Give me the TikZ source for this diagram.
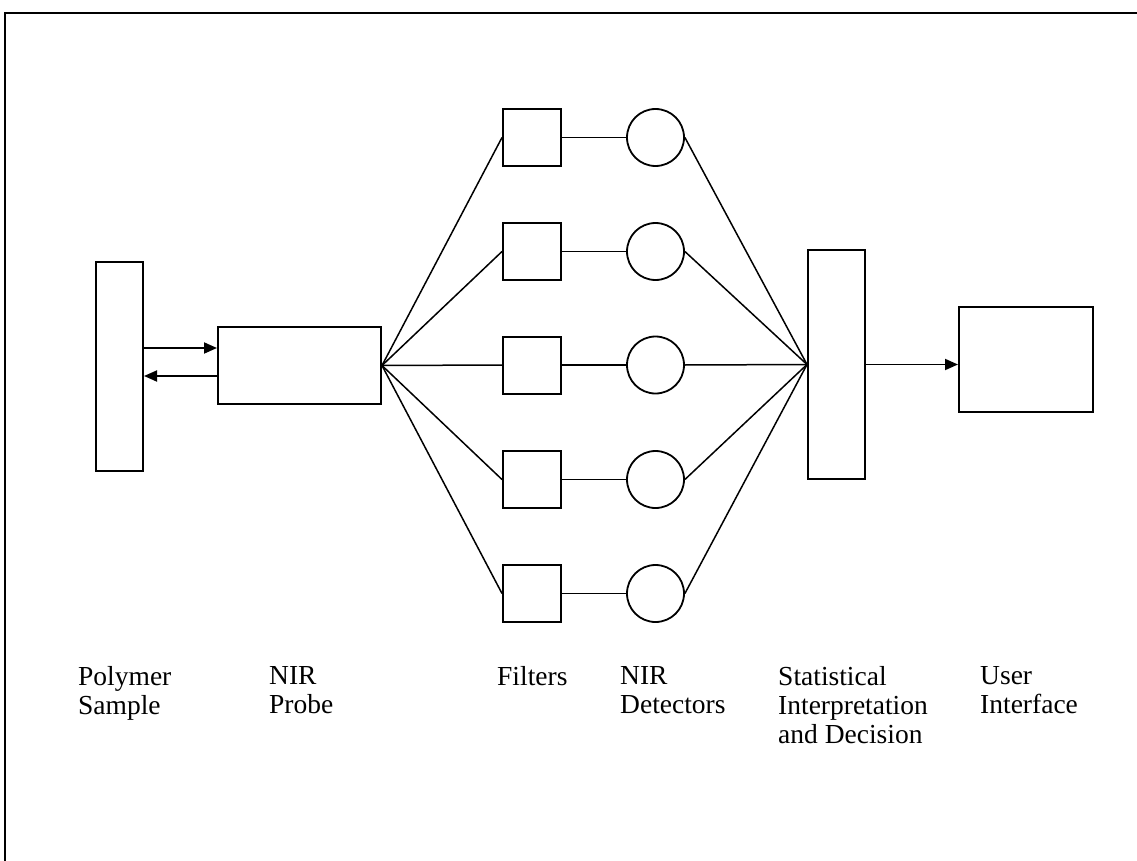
\documentclass[tikz,border=0pt]{standalone}
\usepackage{fontspec}
\setmainfont{Liberation Serif}
\usetikzlibrary{arrows.meta}
\begin{document}
\begin{tikzpicture}[x=1pt,y=-1pt,
  box/.style={draw, line width=2pt, inner sep=0pt, fill=none},
  filt/.style={box, minimum width=58pt, minimum height=57pt},
  det/.style={draw, line width=1.8pt, circle, inner sep=0pt, minimum size=57pt},
  link/.style={line width=1.5pt},
  arr/.style={line width=1.8pt, -{Triangle[length=13pt,width=11pt]}},
  lbl/.style={anchor=north west, inner sep=0pt, align=left,
    font=\fontsize{27.5}{29}\selectfont}]
\useasboundingbox (0,0) rectangle (1137,861);
% frame (only left and top edges visible)
\coordinate (fbl) at (5,861);
\coordinate (ftl) at (5,13);
\coordinate (ftr) at (1137,13);
\draw[line width=2.2pt] (fbl) -- (ftl) -- (ftr);
% blocks
\node[box, minimum width=47pt, minimum height=209pt] (ps) at (119.5,366.5) {};
\node[box, minimum width=163pt, minimum height=77pt] (probe) at (299.5,365.5) {};
\node[box, minimum width=57pt, minimum height=229pt] (stat) at (836.5,364.5) {};
\node[box, minimum width=134pt, minimum height=105pt] (ui) at (1026,359.5) {};
% filters and detectors
\foreach \i/\yc in {1/137.5,2/251.5,3/365,4/479.5,5/593.5}{
  \node[filt] (f\i) at (532,\yc) {};
  \node[det] (d\i) at (655.5,\yc) {};
  \draw[link] (f\i.east) -- (d\i.west);
  \draw[link] (probe.east) -- (f\i.west);
  \draw[link] (d\i.east) -- (stat.west);
}
% arrows
\draw[arr] (ps.east |- 0,348) -- (probe.west |- 0,348);
\draw[arr] (probe.west |- 0,376) -- (ps.east |- 0,376);
\draw[arr] (stat.east) -- (stat.east -| ui.west);
% labels
\node[lbl] (l1) at (78,666) {Polymer\\Sample};
\node[lbl] (l2) at (269,666) {NIR\\Probe};
\node[lbl] (l3) at (497,666) {Filters};
\node[lbl] (l4) at (620,666) {NIR\\Detectors};
\node[lbl] (l5) at (778,666) {Statistical\\Interpretation\\and Decision};
\node[lbl] (l6) at (980,666) {User\\Interface};
\end{tikzpicture}
\end{document}
